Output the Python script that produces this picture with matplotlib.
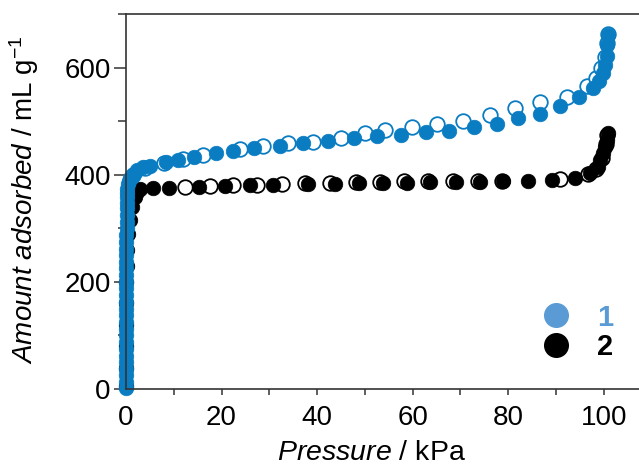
import numpy as np
import matplotlib
matplotlib.use('Agg')
import matplotlib.pyplot as plt
from matplotlib.lines import Line2D
from matplotlib.ticker import MultipleLocator

plt.rcParams['font.family'] = ['Liberation Sans', 'DejaVu Sans']
plt.rcParams['mathtext.fontset'] = 'custom'
plt.rcParams['mathtext.rm'] = 'Liberation Sans'
plt.rcParams['mathtext.it'] = 'Liberation Sans:italic'

# sample 1 (blue), adsorption = filled, desorption = open
P1_ads = [0.0, 0.0, 0.0, 0.0, 0.0, 0.0, 0.01, 0.01, 0.01, 0.01, 0.02, 0.02, 0.02, 0.03,
          0.03, 0.04, 0.04, 0.05, 0.05, 0.06, 0.07, 0.08, 0.09, 0.1, 0.11, 0.12, 0.14,
          0.15, 0.18, 0.2, 0.25, 0.3, 0.4, 0.6, 0.9, 1.2, 1.7, 2.3, 3.5,
          5.0, 8.4, 10.9, 14.3, 18.8, 22.5, 26.8, 32.3,
          37.1, 42.3, 47.7, 52.6, 57.6, 62.8, 67.6, 72.9, 77.7, 82.1, 86.7, 90.9, 94.9,
          97.8, 99.0, 99.9, 100.3, 100.6, 100.8, 100.9]
V1_ads = [2, 14, 26, 38, 50, 62, 75, 88, 100, 112, 125, 138, 150, 162,
          175, 188, 200, 212, 225, 238, 250, 262, 275, 288, 300, 312, 325,
          337, 348, 358, 366, 374, 382, 389, 393, 396, 402, 409, 414,
          417, 424, 428, 434, 441, 445, 449, 454,
          460, 463, 469, 473, 475, 479, 482, 490, 495, 505, 514, 529, 546,
          562, 575, 590, 605, 622, 642, 660]
P1_des = [1.5, 4.0, 8.0, 12.0, 16.1, 23.9, 28.7, 33.9, 39.2, 45.0, 50.1, 54.2, 59.9, 65.1,
          70.6, 76.2, 81.5, 86.7, 92.4, 96.5, 98.5, 99.5, 100.2, 100.6, 100.9]
V1_des = [400, 412, 421, 430, 437, 448, 454, 460, 462, 469, 477, 484, 490, 495,
          501, 512, 525, 535, 546, 565, 580, 600, 620, 645, 662]

# sample 2 (black)
P2_ads = [0.0, 0.0, 0.0, 0.02, 0.05, 0.1, 0.2, 0.3, 0.5, 0.9, 1.3, 1.8, 2.3, 2.9, 5.7,
          9.0, 15.3, 20.7, 26.0, 30.8, 38.1, 43.8, 48.8, 53.8, 58.8, 63.7, 69.1, 74.1,
          79.0, 84.2, 89.2, 94.0, 97.2, 98.8, 99.3, 99.9, 100.3, 100.7, 100.9]
V2_ads = [5, 40, 80, 120, 160, 200, 230, 260, 290, 316, 340, 358, 368, 374, 376,
          376, 378, 379, 380, 380, 383, 383, 384, 385, 385, 387, 387, 387,
          388, 389, 391, 394, 403, 415, 428, 440, 452, 465, 478]
P2_des = [12.4, 17.6, 22.5, 27.4, 32.6, 37.5, 42.7, 48.2, 53.2, 58.2, 63.2, 68.5, 73.7,
          78.7, 90.9, 96.8, 98.3, 99.6, 100.4, 100.8]
V2_des = [378, 379, 380, 381, 383, 385, 385, 386, 387, 388, 388, 389, 389,
          389, 392, 402, 410, 432, 458, 475]

blue = '#0a7cc2'
legend_blue = '#5b9bd5'

fig = plt.figure(figsize=(6.39, 4.67), dpi=100)
ax = fig.add_axes([126 / 639, 1 - 389 / 467, 513 / 639, 375 / 467])

ms = 10.5
ax.plot(P2_des, V2_des, 'o', ms=ms, mfc='white', mec='black', mew=1.3, ls='none', clip_on=False)
ax.plot(P2_ads, V2_ads, 'o', ms=ms, mfc='black', mec='black', mew=0.5, ls='none', clip_on=False)
ax.plot(P1_des, V1_des, 'o', ms=ms, mfc='white', mec=blue, mew=1.3, ls='none', clip_on=False)
ax.plot(P1_ads, V1_ads, 'o', ms=ms, mfc=blue, mec=blue, mew=0.5, ls='none', clip_on=False)

ax.set_xlim(0, 107.4)
ax.set_ylim(0, 700)
ax.xaxis.set_major_locator(MultipleLocator(20))
ax.xaxis.set_minor_locator(MultipleLocator(10))
ax.yaxis.set_major_locator(MultipleLocator(200))
ax.yaxis.set_minor_locator(MultipleLocator(100))
ax.tick_params(which='both', direction='out', width=1.1, color='#333333', labelsize=20)
ax.tick_params(axis='x', which='both', length=4.5, pad=7)
ax.tick_params(axis='y', which='major', length=9, pad=2)
ax.tick_params(axis='y', which='minor', length=6)
ax.spines['right'].set_visible(False)
for s in ['left', 'bottom', 'top']:
    ax.spines[s].set_linewidth(1.2)
    ax.spines[s].set_color('#333333')

ax.set_xlabel(r'$\it{Pressure}$ / kPa', fontsize=20.5)
ax.set_ylabel(r'$\it{Amount\ adsorbed}$ / mL g$^{-1}$', fontsize=20)
ax.xaxis.set_label_coords(0.478, -0.135)
ax.yaxis.set_label_coords(-0.165, 0.505)

handles = [Line2D([], [], marker='o', ls='none', ms=17, mfc=legend_blue, mec=legend_blue),
           Line2D([], [], marker='o', ls='none', ms=17, mfc='black', mec='black')]
leg = ax.legend(handles, ['1', '2'], loc='lower right', bbox_to_anchor=(0.99, 0.02),
                frameon=False, prop={'size': 21, 'weight': 'bold'},
                handletextpad=0.9, labelspacing=0.05, handlelength=1.0, borderpad=0.2)
leg.get_texts()[0].set_color(legend_blue)

fig.savefig('out.png', dpi=100)
